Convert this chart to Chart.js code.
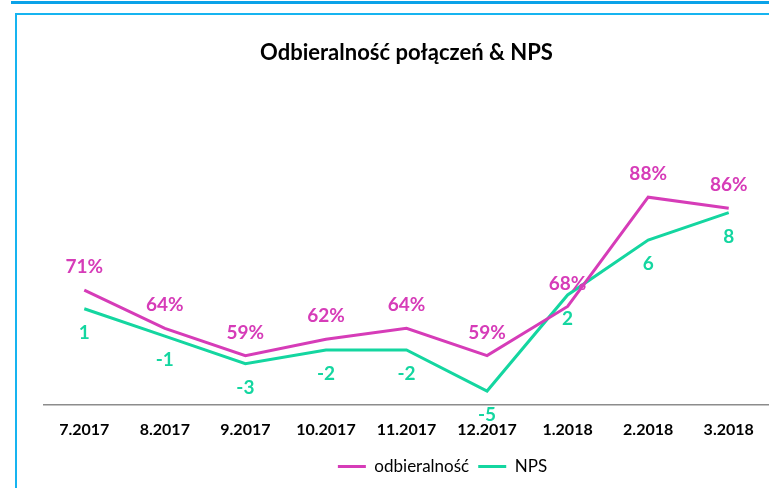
<!DOCTYPE html>
<html>
<head>
<meta charset="utf-8">
<script src="https://cdn.jsdelivr.net/npm/chart.js@4/dist/chart.umd.min.js"></script>
<style>
  html, body { margin: 0; padding: 0; background: #fff; }
  body { width: 769px; height: 488px; position: relative; overflow: hidden; }
  #topLine { position: absolute; left: 11px; top: 1px; right: 0; height: 3px; background: #0aa2e8; }
  #frame { position: absolute; left: 15px; top: 13px; right: -5px; bottom: -5px;
           border-left: 2px solid #16b4f0; border-top: 2px solid #16b4f0; }
  #wrap { position: absolute; left: 0; top: 0; width: 769px; height: 488px; }
</style>
</head>
<body>
<div id="topLine"></div>
<div id="frame"></div>
<div id="wrap"><canvas id="chart" width="769" height="488"></canvas></div>
<script>
const months = ["7.2017", "8.2017", "9.2017", "10.2017", "11.2017", "12.2017", "1.2018", "2.2018", "3.2018"];
const odbieralnosc = [71, 64, 59, 62, 64, 59, 68, 88, 86]; // %
const nps = [1, -1, -3, -2, -2, -5, 2, 6, 8];

const PINK = "#d63cb8";
const GREEN = "#14d6a0";

// draws the value labels (no datalabels plugin available offline)
const pointLabels = {
  id: "pointLabels",
  afterDatasetsDraw(chart) {
    const ctx = chart.ctx;
    chart.data.datasets.forEach((ds, i) => {
      const meta = chart.getDatasetMeta(i);
      ctx.save();
      ctx.font = "bold 19px Lato";
      ctx.fillStyle = ds.borderColor;
      ctx.textAlign = "center";
      ctx.textBaseline = "middle";
      meta.data.forEach((pt, j) => {
        const txt = ds.yAxisID === "yPct" ? ds.data[j] + "%" : String(ds.data[j]);
        ctx.fillText(txt, pt.x, pt.y + ds.labelShift);
      });
      ctx.restore();
    });
  }
};

// legend in the original sits a bit right of the plot centre
const legendShift = {
  id: "legendShift",
  afterLayout(chart) {
    chart.legend.left += 36;
    chart.legend.right += 36;
  }
};

new Chart(document.getElementById("chart"), {
  type: "line",
  data: {
    labels: months,
    datasets: [
      {
        label: "odbieralność",
        data: odbieralnosc,
        yAxisID: "yPct",
        borderColor: PINK,
        backgroundColor: PINK,
        borderWidth: 3,
        pointRadius: 0,
        tension: 0,
        labelShift: -23,
      },
      {
        label: "NPS",
        data: nps,
        yAxisID: "yNps",
        borderColor: GREEN,
        backgroundColor: GREEN,
        borderWidth: 3,
        pointRadius: 0,
        tension: 0,
        labelShift: 24,
      },
    ],
  },
  options: {
    responsive: false,
    animation: false,
    layout: { padding: { left: 44, right: 0, top: 0, bottom: 3 } },
    plugins: {
      title: {
        display: true,
        text: "Odbieralność połączeń & NPS",
        color: "#000",
        font: { family: "Lato", size: 22, weight: "bold" },
        padding: { top: 40, bottom: 68 },
      },
      legend: {
        position: "bottom",
        labels: {
          color: "#000",
          font: { family: "Lato", size: 17 },
          usePointStyle: true,
          pointStyle: "line",
          pointStyleWidth: 28,
          padding: 9,
        },
      },
      tooltip: { enabled: false },
    },
    scales: {
      x: {
        offset: true,
        grid: { display: false, drawTicks: false },
        border: { display: true, color: "#8c8c8c", width: 1.5 },
        ticks: { color: "#000", font: { family: "Lato", size: 16, weight: "bold" }, padding: 15 },
        afterFit(scale) { scale.height -= 5; },
      },
      yPct: { display: false, min: 50, max: 99.5 },
      yNps: { display: false, min: -6, max: 13.7 },
    },
  },
  plugins: [pointLabels, legendShift],
});
</script>
</body>
</html>
